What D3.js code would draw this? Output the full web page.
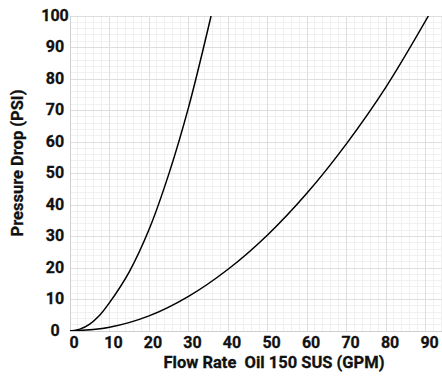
<!DOCTYPE html>
<html>
<head>
<meta charset="utf-8">
<script src="https://cdn.jsdelivr.net/npm/d3@7"></script>
<style>
  body { margin: 0; background: #fff; }
  #plot { font-family: Roboto, "Noto Sans", sans-serif; }
  #plot text { fill: #111; stroke: #111; stroke-width: 0.3px; font-weight: bold; }
</style>
</head>
<body>
<div id="plot"></div>
<script>
// values
var flowA = [0, 2.5, 5, 7.5, 10, 15, 20, 25, 30, 35.7];
var dropA = [0, 0.6, 2.2, 5, 9, 18.8, 32.2, 49.8, 71, 100];
var flowB = [0, 10, 20, 30, 40, 50, 60, 70, 80, 90.7];
var dropB = [0, 1.2, 4.8, 11, 19.6, 30.5, 43.8, 59.5, 77.5, 100];
var xTicks = [0, 10, 20, 30, 40, 50, 60, 70, 80, 90];
var yTicks = [0, 10, 20, 30, 40, 50, 60, 70, 80, 90, 100];

var width = 442, height = 376;
var margin = {left: 70, top: 16, right: 0, bottom: 45};

var svg = d3.select("#plot").append("svg")
    .attr("width", width)
    .attr("height", height);

var x = d3.scaleLinear().domain([0, 94.15]).range([margin.left, width - margin.right]);
var y = d3.scaleLinear().domain([0, 100]).range([height - margin.bottom, margin.top]);

// grid, minor then major
var minorX = d3.range(0, 95, 2), minorY = d3.range(0, 101, 2);
var grid = svg.append("g").attr("class", "grid");
grid.selectAll(".vminor").data(minorX).enter().append("line")
    .attr("x1", function(d) { return x(d); }).attr("x2", function(d) { return x(d); })
    .attr("y1", y(0)).attr("y2", y(100))
    .style("stroke", "#f0f0f0").style("shape-rendering", "crispEdges");
grid.selectAll(".hminor").data(minorY).enter().append("line")
    .attr("y1", function(d) { return y(d); }).attr("y2", function(d) { return y(d); })
    .attr("x1", x(0)).attr("x2", width)
    .style("stroke", "#f0f0f0").style("shape-rendering", "crispEdges");
grid.selectAll(".vmajor").data(xTicks).enter().append("line")
    .attr("x1", function(d) { return x(d); }).attr("x2", function(d) { return x(d); })
    .attr("y1", y(0)).attr("y2", y(100))
    .style("stroke", "#dedede").style("shape-rendering", "crispEdges");
grid.selectAll(".hmajor").data(yTicks).enter().append("line")
    .attr("y1", function(d) { return y(d); }).attr("y2", function(d) { return y(d); })
    .attr("x1", x(0)).attr("x2", width)
    .style("stroke", "#dedede").style("shape-rendering", "crispEdges");

// axis lines
svg.append("line").attr("x1", x(0)).attr("x2", x(0)).attr("y1", y(0)).attr("y2", y(100))
    .style("stroke", "#cfcfcf").style("shape-rendering", "crispEdges");
svg.append("line").attr("x1", x(0)).attr("x2", width).attr("y1", y(0)).attr("y2", y(0))
    .style("stroke", "#cfcfcf").style("shape-rendering", "crispEdges");

// curves
var line = d3.line()
    .x(function(d) { return x(d[0]); })
    .y(function(d) { return y(d[1]); })
    .curve(d3.curveCatmullRom);

var clip = svg.append("clipPath").attr("id", "clip").append("rect")
    .attr("x", x(0)).attr("y", y(100))
    .attr("width", width - x(0)).attr("height", y(0) - y(100));

[d3.zip(flowA, dropA), d3.zip(flowB, dropB)].forEach(function(pts) {
    svg.append("path")
        .datum(pts)
        .attr("d", line)
        .attr("clip-path", "url(#clip)")
        .style("fill", "none")
        .style("stroke", "#000")
        .style("stroke-width", 1.5);
});

// tick labels
svg.selectAll(".ylab").data(yTicks).enter().append("text")
    .attr("x", 55)
    .attr("y", function(d) { return y(d) + 4.5; })
    .attr("text-anchor", "middle")
    .style("font-size", "16px")
    .text(function(d) { return d; });

svg.selectAll(".xlab").data(xTicks).enter().append("text")
    .attr("x", function(d) { return x(d) + 4; })
    .attr("y", 348)
    .attr("text-anchor", "middle")
    .style("font-size", "16px")
    .text(function(d) { return d; });

// axis titles
svg.append("text")
    .attr("x", 274).attr("y", 368)
    .attr("text-anchor", "middle")
    .attr("xml:space", "preserve")
    .style("white-space", "pre")
    .style("font-size", "16.5px")
    .text("Flow Rate  Oil 150 SUS (GPM)");

svg.append("text")
    .attr("transform", "translate(23,163) rotate(-90)")
    .attr("text-anchor", "middle")
    .style("font-size", "16.5px")
    .text("Pressure Drop (PSI)");
</script>
</body>
</html>
